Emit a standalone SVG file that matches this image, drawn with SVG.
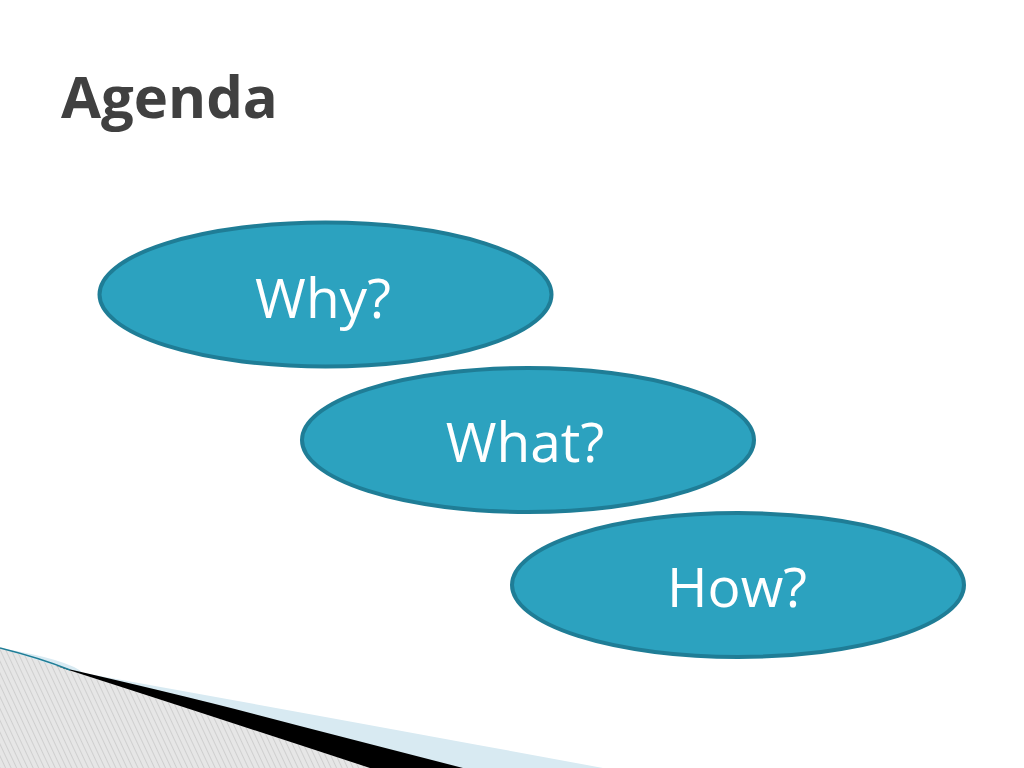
<svg xmlns="http://www.w3.org/2000/svg" width="1024" height="768" viewBox="0 0 1024 768">
<defs>
<pattern id="hatch" patternUnits="userSpaceOnUse" width="5" height="5" patternTransform="rotate(-25)">
<rect width="5" height="5" fill="#e6e6e6"/>
<line x1="0" y1="0" x2="0" y2="5" stroke="#b8b8b8" stroke-width="1"/>
</pattern>
<style>
.node ellipse{fill:#2ca2bf;stroke:#1f7d96;stroke-width:4}
.node text{font-family:"Open Sans","Noto Sans","Liberation Sans",sans-serif;font-size:55px;fill:#ffffff;text-anchor:middle}
.title{font-family:"Open Sans","Noto Sans","Liberation Sans",sans-serif;font-size:58px;font-weight:bold;fill:#404040}
</style>
</defs>
<rect width="1024" height="768" fill="#ffffff"/>
<g id="decoration">
<path d="M0,648 Q70,660 83,673 Q300,712 603,768 L0,768 Z" fill="#d8eaf2"/>
<path d="M55,666 Q200,699 300,726 L463,768 L0,768 Z" fill="#000000"/>
<path d="M0,648 Q200,712 370,768 L0,768 Z" fill="url(#hatch)"/>
<path d="M0,648 Q40,658 70,670" fill="none" stroke="#1f7d96" stroke-width="1.5"/>
</g>
<text class="title" x="61" y="118">Agenda</text>
<g id="connectors"></g>
<g id="node-why" class="node">
<ellipse cx="325.5" cy="294.5" rx="226" ry="72"/>
<text x="323" y="318">Why?</text>
</g>
<g id="node-what" class="node">
<ellipse cx="528" cy="440" rx="226" ry="72"/>
<text x="525" y="462">What?</text>
</g>
<g id="node-how" class="node">
<ellipse cx="738" cy="585" rx="226" ry="72"/>
<text x="737" y="607">How?</text>
</g>
</svg>
